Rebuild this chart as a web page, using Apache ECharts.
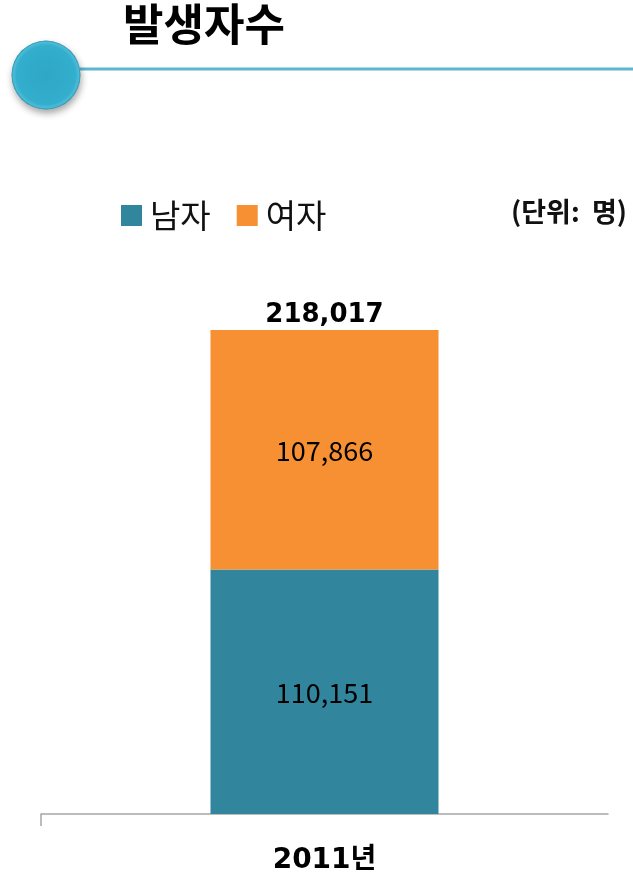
<!DOCTYPE html>
<html><head><meta charset="utf-8">
<style>html,body{margin:0;padding:0;background:#fff}#c{width:633px;height:873px}</style>
<script src="https://cdn.jsdelivr.net/npm/echarts@6/dist/echarts.min.js"></script>
</head><body><div id="c"></div>
<script>
const categories = ['2011년'];
const male = [110151];
const female = [107866];
const total = [218017];
const KR = '"Noto Sans CJK KR","Noto Sans",sans-serif';
const fmt = v => Number(v).toLocaleString('en-US');
const chart = echarts.init(document.getElementById('c'), null, {renderer:'canvas'});
chart.setOption({
  animation:false,
  backgroundColor:'#fff',
  title:{text:'발생자수',left:118,top:-3,textStyle:{fontFamily:KR,fontSize:44,fontWeight:'bold',color:'#000'}},
  legend:{data:['남자','여자'],left:116,top:194,itemWidth:21,itemHeight:21,itemGap:26,
    icon:'rect',textStyle:{fontFamily:KR,fontSize:33,color:'#111',padding:[0,0,0,3]}},
  grid:{left:41,right:25,top:259,bottom:59,outerBoundsMode:'none'},
  xAxis:{type:'category',data:categories,
    axisLine:{lineStyle:{color:'#a6a6a6',width:1.5}},axisTick:{show:false},
    axisLabel:{margin:33,fontFamily:'"DejaVu Sans",'+KR,fontWeight:'bold',fontSize:28,color:'#000'}},
  yAxis:{type:'value',min:0,max:250000,show:false,splitLine:{show:false}},
  series:[
    {name:'남자',type:'bar',stack:'t',barWidth:228,data:male,itemStyle:{color:'#31859c'},
      label:{show:true,position:'inside',offset:[0,1],formatter:p=>fmt(p.value),fontFamily:KR,fontSize:27,color:'#000'}},
    {name:'여자',type:'bar',stack:'t',data:female,itemStyle:{color:'#f79033'},
      label:{show:true,position:'inside',offset:[0,1],formatter:p=>fmt(p.value),fontFamily:KR,fontSize:27,color:'#000'}},
    {name:'합계',type:'line',data:total,symbol:'circle',symbolSize:1,itemStyle:{color:'transparent'},lineStyle:{opacity:0},
      label:{show:true,position:'top',distance:1,color:'#000',formatter:p=>fmt(p.value),fontFamily:'"DejaVu Sans",sans-serif',fontWeight:'bold',fontSize:26}}
  ],
  graphic:[
    {type:'line',z:1,shape:{x1:80,y1:69,x2:633,y2:69},style:{stroke:'#5bb8cf',lineWidth:3}},
    {type:'line',shape:{x1:41,y1:814,x2:41,y2:826},style:{stroke:'#a6a6a6',lineWidth:1.5}},
    {type:'circle',z:2,shape:{cx:46,cy:75,r:34.5},style:{
      fill:{type:'radial',x:0.5,y:0.5,r:0.5,colorStops:[{offset:0,color:'#2fa6c6'},{offset:0.85,color:'#33aecd'},{offset:0.95,color:'#4cbcd8'},{offset:1,color:'#2b8ea8'}]},
      shadowBlur:7,shadowColor:'rgba(0,0,0,0.35)',shadowOffsetX:1,shadowOffsetY:4}},
    {type:'text',left:511,top:198,style:{text:'(단위:  명)',fontFamily:KR,fontWeight:'bold',fontSize:27,fill:'#111'}}
  ]
});
</script></body></html>
